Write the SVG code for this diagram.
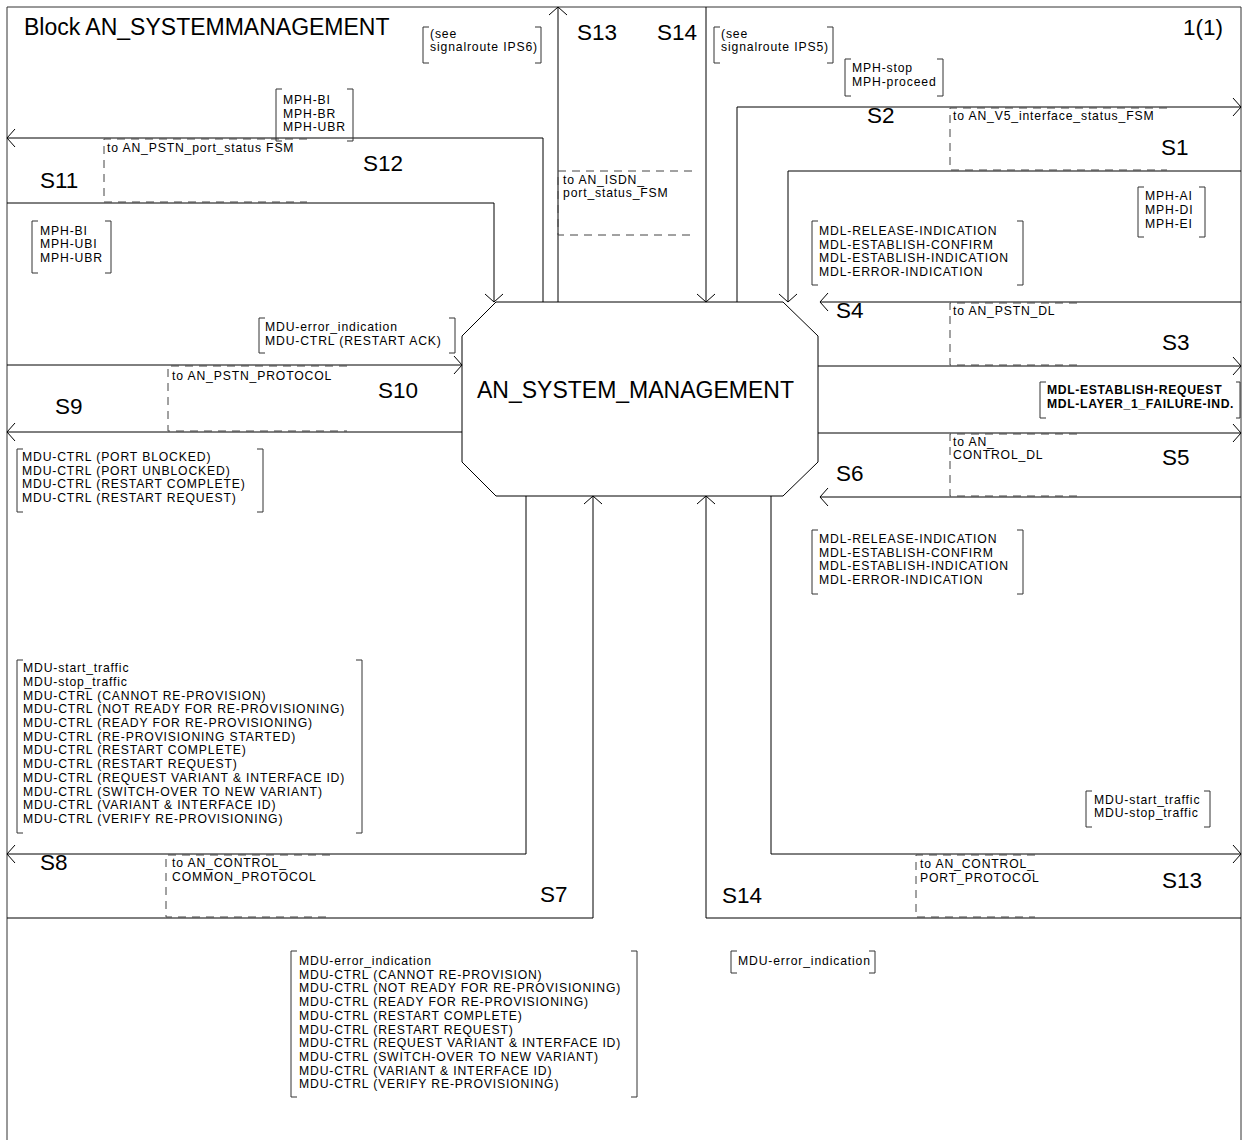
<svg xmlns="http://www.w3.org/2000/svg" width="1248" height="1140" viewBox="0 0 1248 1140">
<defs>
<style>
.ln{fill:none;stroke:#000;stroke-width:1}
.fr{fill:none;stroke:#333;stroke-width:1}
.da{fill:none;stroke:#444;stroke-width:1;stroke-dasharray:8 6}
.br{fill:none;stroke:#333;stroke-width:1}
.t{font-family:"Liberation Sans",Arial,sans-serif;font-size:12.2px;letter-spacing:0.85px;fill:#000}
.b{font-weight:bold;letter-spacing:0.65px}
.s{font-family:"Liberation Sans",Arial,sans-serif;font-size:22.5px;fill:#000}
.big{font-family:"Liberation Sans",Arial,sans-serif;font-size:23px;fill:#000}
</style>
<marker id="ah" viewBox="-10 -10 20 20" refX="0" refY="0" markerWidth="20" markerHeight="20" markerUnits="userSpaceOnUse" orient="auto">
<path d="M-8,-9 L0,0 L-8,9" fill="none" stroke="#000" stroke-width="1"/>
</marker>
</defs>
<rect width="1248" height="1140" fill="#fff"/>

<g id="frame">
<path class="fr" d="M7,1145V7H1241V1145"/>
<text class="big" x="24" y="35">Block AN_SYSTEMMANAGEMENT</text>
<text class="s" x="1183" y="35">1(1)</text>
</g>

<g id="AN_SYSTEM_MANAGEMENT">
<polygon class="ln" fill="#fff" points="496,302 783,302 818,336 818,462 783,496 496,496 462,462 462,336"/>
<text class="big" x="635.5" y="398" text-anchor="middle">AN_SYSTEM_MANAGEMENT</text>
</g>

<g id="connectors">
<path class="ln" d="M543,302V138H7" marker-end="url(#ah)"/>
<path class="ln" d="M7,203H494V302" marker-end="url(#ah)"/>
<path class="ln" d="M558,302V7" marker-end="url(#ah)"/>
<path class="ln" d="M706,7V302" marker-end="url(#ah)"/>
<path class="ln" d="M737,302V107H1241" marker-end="url(#ah)"/>
<path class="ln" d="M1241,171H788V302" marker-end="url(#ah)"/>
<path class="ln" d="M1241,302H820" marker-end="url(#ah)"/>
<path class="ln" d="M818,366H1241" marker-end="url(#ah)"/>
<path class="ln" d="M818,433H1241" marker-end="url(#ah)"/>
<path class="ln" d="M1241,497H820" marker-end="url(#ah)"/>
<path class="ln" d="M7,365H462" marker-end="url(#ah)"/>
<path class="ln" d="M462,432H7" marker-end="url(#ah)"/>
<path class="ln" d="M526,496V854H7" marker-end="url(#ah)"/>
<path class="ln" d="M7,918H593V496" marker-end="url(#ah)"/>
<path class="ln" d="M1241,918H706V496" marker-end="url(#ah)"/>
<path class="ln" d="M771,496V854H1241" marker-end="url(#ah)"/>
</g>

<g id="route-labels">
<text class="s" x="40" y="188">S11</text>
<text class="s" x="363" y="171">S12</text>
<text class="s" x="577" y="40">S13</text>
<text class="s" x="657" y="40">S14</text>
<text class="s" x="867" y="123">S2</text>
<text class="s" x="1161" y="155">S1</text>
<text class="s" x="836" y="318">S4</text>
<text class="s" x="1162" y="350">S3</text>
<text class="s" x="378" y="398">S10</text>
<text class="s" x="55" y="414">S9</text>
<text class="s" x="1162" y="465">S5</text>
<text class="s" x="836" y="481">S6</text>
<text class="s" x="40" y="870">S8</text>
<text class="s" x="540" y="902">S7</text>
<text class="s" x="722" y="903">S14</text>
<text class="s" x="1162" y="888">S13</text>
</g>

<g id="destinations">
<path class="da" d="M307,139H104V202H307"/>
<text class="t" x="107" y="152">to AN_PSTN_port_status FSM</text>
<path class="da" d="M1167,108H950V170H1167"/>
<text class="t" x="953" y="120">to AN_V5_interface_status_FSM</text>
<path class="da" d="M692,171H558V235H692"/>
<text class="t" x="563" y="183.5">to AN_ISDN_</text>
<text class="t" x="563" y="197.3">port_status_FSM</text>
<path class="da" d="M1077,303H950V365H1077"/>
<text class="t" x="953" y="315">to AN_PSTN_DL</text>
<path class="da" d="M347,366H168V431H347"/>
<text class="t" x="172" y="380">to AN_PSTN_PROTOCOL</text>
<path class="da" d="M1077,434H950V496H1077"/>
<text class="t" x="953" y="445.5">to AN_</text>
<text class="t" x="953" y="459.3">CONTROL_DL</text>
<path class="da" d="M330,855H166V917H330"/>
<text class="t" x="172" y="867">to AN_CONTROL_</text>
<text class="t" x="172" y="881">COMMON_PROTOCOL</text>
<path class="da" d="M1035,855H916V917H1035"/>
<text class="t" x="920" y="868">to AN_CONTROL_</text>
<text class="t" x="920" y="882">PORT_PROTOCOL</text>
</g>

<g id="sig-s12">
<path class="br" d="M282,89H276V141H282M347,89H353V141H347"/>
<text class="t"><tspan x="283" y="104">MPH-BI</tspan><tspan x="283" y="117.7">MPH-BR</tspan><tspan x="283" y="131.4">MPH-UBR</tspan></text>
</g>
<g id="sig-s11">
<path class="br" d="M38,221H32V273H38M105,221H111V273H105"/>
<text class="t"><tspan x="40" y="234.5">MPH-BI</tspan><tspan x="40" y="248.2">MPH-UBI</tspan><tspan x="40" y="262">MPH-UBR</tspan></text>
</g>
<g id="sig-s13">
<path class="br" d="M429,27H423V63H429M535,27H541V63H535"/>
<text class="t"><tspan x="430" y="37.5">(see</tspan><tspan x="430" y="51.3">signalroute IPS6)</tspan></text>
</g>
<g id="sig-s14">
<path class="br" d="M720,27H714V63H720M827,27H833V63H827"/>
<text class="t"><tspan x="721" y="37.5">(see</tspan><tspan x="721" y="51.3">signalroute IPS5)</tspan></text>
</g>
<g id="sig-s2">
<path class="br" d="M851,59H845V96H851M937,59H943V96H937"/>
<text class="t"><tspan x="852" y="72">MPH-stop</tspan><tspan x="852" y="85.8">MPH-proceed</tspan></text>
</g>
<g id="sig-s1">
<path class="br" d="M1144,187H1138V237H1144M1199,187H1205V237H1199"/>
<text class="t"><tspan x="1145" y="200">MPH-AI</tspan><tspan x="1145" y="214">MPH-DI</tspan><tspan x="1145" y="228">MPH-EI</tspan></text>
</g>
<g id="sig-s4">
<path class="br" d="M818,221H812V285H818M1017,221H1023V285H1017"/>
<text class="t"><tspan x="819" y="235">MDL-RELEASE-INDICATION</tspan><tspan x="819" y="248.7">MDL-ESTABLISH-CONFIRM</tspan><tspan x="819" y="262.4">MDL-ESTABLISH-INDICATION</tspan><tspan x="819" y="276.1">MDL-ERROR-INDICATION</tspan></text>
</g>
<g id="sig-s10">
<path class="br" d="M265,318H259V353H265M449,318H455V353H449"/>
<text class="t"><tspan x="265" y="331">MDU-error_indication</tspan><tspan x="265" y="344.7">MDU-CTRL (RESTART ACK)</tspan></text>
</g>
<g id="sig-s3-s5">
<path class="br" d="M1046,382H1040V418H1046M1236,382H1240V418H1236"/>
<text class="t b"><tspan x="1047" y="394">MDL-ESTABLISH-REQUEST</tspan><tspan x="1047" y="407.7">MDL-LAYER_1_FAILURE-IND.</tspan></text>
</g>
<g id="sig-s9">
<path class="br" d="M23,449H17V512H23M257,449H263V512H257"/>
<text class="t"><tspan x="22" y="461">MDU-CTRL (PORT BLOCKED)</tspan><tspan x="22" y="474.7">MDU-CTRL (PORT UNBLOCKED)</tspan><tspan x="22" y="488.4">MDU-CTRL (RESTART COMPLETE)</tspan><tspan x="22" y="502.1">MDU-CTRL (RESTART REQUEST)</tspan></text>
</g>
<g id="sig-s6">
<path class="br" d="M818,530H812V594H818M1017,530H1023V594H1017"/>
<text class="t"><tspan x="819" y="543">MDL-RELEASE-INDICATION</tspan><tspan x="819" y="556.7">MDL-ESTABLISH-CONFIRM</tspan><tspan x="819" y="570.4">MDL-ESTABLISH-INDICATION</tspan><tspan x="819" y="584.1">MDL-ERROR-INDICATION</tspan></text>
</g>
<g id="sig-s8">
<path class="br" d="M23,660H17V833H23M356,660H362V833H356"/>
<text class="t"><tspan x="23" y="672">MDU-start_traffic</tspan><tspan x="23" y="685.7">MDU-stop_traffic</tspan><tspan x="23" y="699.5">MDU-CTRL (CANNOT RE-PROVISION)</tspan><tspan x="23" y="713.2">MDU-CTRL (NOT READY FOR RE-PROVISIONING)</tspan><tspan x="23" y="726.9">MDU-CTRL (READY FOR RE-PROVISIONING)</tspan><tspan x="23" y="740.6">MDU-CTRL (RE-PROVISIONING STARTED)</tspan><tspan x="23" y="754.4">MDU-CTRL (RESTART COMPLETE)</tspan><tspan x="23" y="768.1">MDU-CTRL (RESTART REQUEST)</tspan><tspan x="23" y="781.8">MDU-CTRL (REQUEST VARIANT &amp; INTERFACE ID)</tspan><tspan x="23" y="795.6">MDU-CTRL (SWITCH-OVER TO NEW VARIANT)</tspan><tspan x="23" y="809.3">MDU-CTRL (VARIANT &amp; INTERFACE ID)</tspan><tspan x="23" y="823">MDU-CTRL (VERIFY RE-PROVISIONING)</tspan></text>
</g>
<g id="sig-s13b">
<path class="br" d="M1092,791H1086V827H1092M1204,791H1210V827H1204"/>
<text class="t"><tspan x="1094" y="803.5">MDU-start_traffic</tspan><tspan x="1094" y="817.3">MDU-stop_traffic</tspan></text>
</g>
<g id="sig-s7">
<path class="br" d="M297,951H291V1097H297M631,951H637V1097H631"/>
<text class="t"><tspan x="299" y="965">MDU-error_indication</tspan><tspan x="299" y="978.7">MDU-CTRL (CANNOT RE-PROVISION)</tspan><tspan x="299" y="992.4">MDU-CTRL (NOT READY FOR RE-PROVISIONING)</tspan><tspan x="299" y="1006.1">MDU-CTRL (READY FOR RE-PROVISIONING)</tspan><tspan x="299" y="1019.8">MDU-CTRL (RESTART COMPLETE)</tspan><tspan x="299" y="1033.5">MDU-CTRL (RESTART REQUEST)</tspan><tspan x="299" y="1047.2">MDU-CTRL (REQUEST VARIANT &amp; INTERFACE ID)</tspan><tspan x="299" y="1060.9">MDU-CTRL (SWITCH-OVER TO NEW VARIANT)</tspan><tspan x="299" y="1074.6">MDU-CTRL (VARIANT &amp; INTERFACE ID)</tspan><tspan x="299" y="1088.3">MDU-CTRL (VERIFY RE-PROVISIONING)</tspan></text>
</g>
<g id="sig-s14b">
<path class="br" d="M737,951H731V973H737M869,951H875V973H869"/>
<text class="t"><tspan x="738" y="965">MDU-error_indication</tspan></text>
</g>
</svg>
